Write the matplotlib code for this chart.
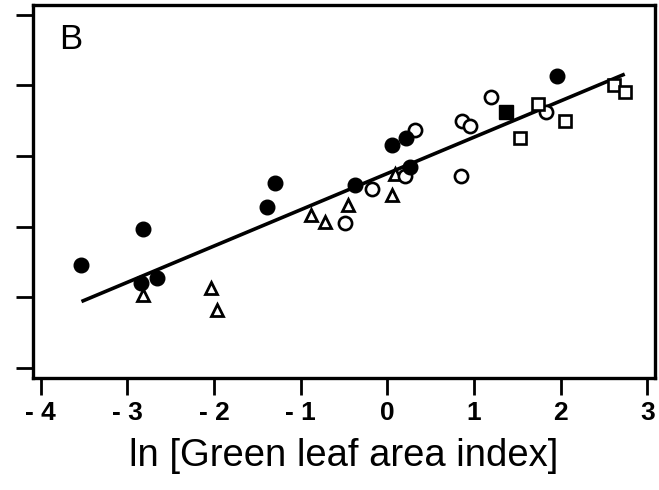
import matplotlib
matplotlib.use('Agg')
import matplotlib.pyplot as plt

plt.rcParams['font.family'] = ['Liberation Sans', 'DejaVu Sans']

# data (y axis has no labels; ticks taken as 0..5)
filled_circle_x = [-3.53, -2.82, -2.84, -2.66, -1.30, -1.39, -0.37, 0.05, 0.22, 0.26, 1.96]
filled_circle_y = [1.46, 1.97, 1.20, 1.27, 2.62, 2.28, 2.59, 3.15, 3.26, 2.85, 4.13]

filled_square_x = [1.37]
filled_square_y = [3.62]

open_triangle_x = [-2.82, -2.03, -1.97, -0.88, -0.72, -0.45, 0.05, 0.09]
open_triangle_y = [1.03, 1.13, 0.82, 2.17, 2.07, 2.31, 2.45, 2.75]

open_circle_x = [-0.49, -0.18, 0.20, 0.32, 0.85, 0.86, 0.96, 1.20, 1.83]
open_circle_y = [2.05, 2.53, 2.72, 3.37, 2.72, 3.49, 3.42, 3.84, 3.63]

open_square_x = [1.53, 1.74, 2.05, 2.62, 2.74]
open_square_y = [3.25, 3.74, 3.49, 4.01, 3.91]

fit_x = [-3.53, 2.74]
fit_y = [0.94, 4.16]

x_ticks = [-4, -3, -2, -1, 0, 1, 2, 3]
x_tick_labels = ['- 4', '- 3', '- 2', '- 1', '0', '1', '2', '3']
y_ticks = [0, 1, 2, 3, 4, 5]

fig = plt.figure(figsize=(6.59, 4.90), dpi=100)
ax = fig.add_axes([0.050, 0.229, 0.944, 0.761])

ax.plot(fit_x, fit_y, color='black', lw=2.6, solid_capstyle='butt', zorder=2)

ax.plot(open_triangle_x, open_triangle_y, ls='none', marker='^', ms=8.5,
        mfc='white', mec='black', mew=2.0, zorder=3)
ax.plot(open_circle_x, open_circle_y, ls='none', marker='o', ms=9.5,
        mfc='white', mec='black', mew=1.9, zorder=3)
ax.plot(open_square_x, open_square_y, ls='none', marker='s', ms=8.5,
        mfc='white', mec='black', mew=1.9, zorder=3)
ax.plot(filled_circle_x, filled_circle_y, ls='none', marker='o', ms=10.5,
        mfc='black', mec='black', zorder=4)
ax.plot(filled_square_x, filled_square_y, ls='none', marker='s', ms=9.5,
        mfc='black', mec='black', zorder=4)

ax.set_xlim(-4.09, 3.09)
ax.set_ylim(-0.14, 5.14)
ax.set_xticks(x_ticks)
ax.set_xticklabels(x_tick_labels, fontsize=19, fontweight='bold')
ax.set_yticks(y_ticks)
ax.set_yticklabels([])
ax.tick_params(direction='out', length=12, width=2.0, pad=5)

for s in ax.spines.values():
    s.set_linewidth(2.4)

ax.set_xlabel('ln [Green leaf area index]', fontsize=27.5, labelpad=9)
ax.text(0.06, 0.906, 'B', transform=ax.transAxes, fontsize=25,
        ha='center', va='center')

fig.savefig('out.png', dpi=100)
